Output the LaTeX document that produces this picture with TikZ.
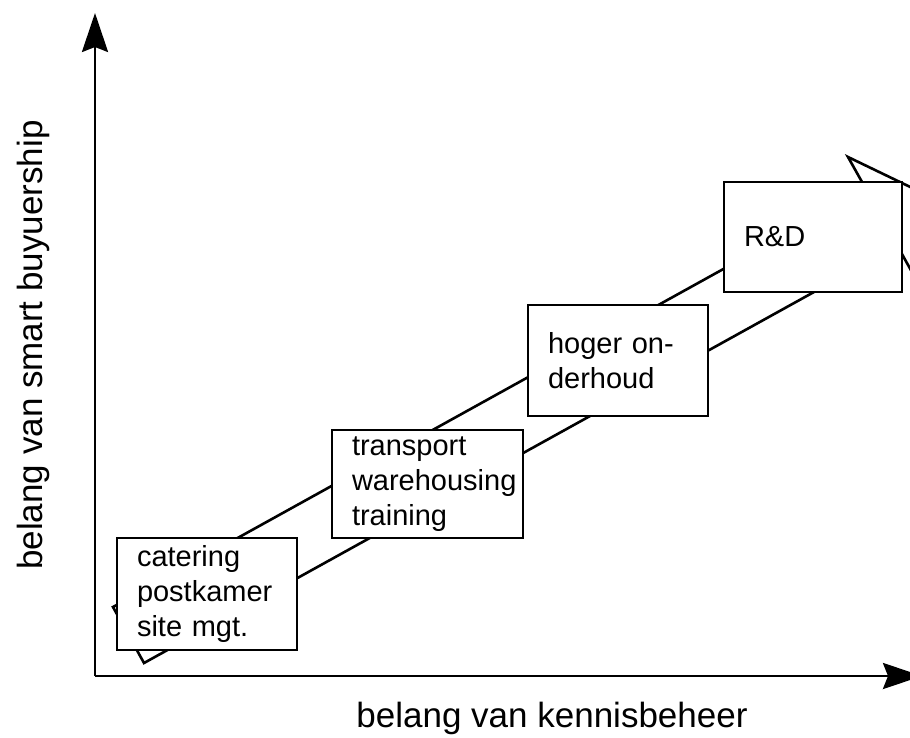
\documentclass[tikz,border=0pt]{standalone}
\usepackage{fontspec}
\setmainfont{Liberation Sans}
\usetikzlibrary{arrows.meta}

\begin{document}
\begin{tikzpicture}[x=1pt,y=-1pt,
  box/.style={draw, rectangle, line width=2.8pt, fill=white, inner xsep=20pt, align=left, font=\fontsize{29}{35}\selectfont},
  axis/.style={line width=2.8pt, -{Stealth[length=39pt,width=26pt,inset=5pt]}},
  band/.style={line width=2.6pt, line join=miter}]
\clip (0,0) rectangle (910,737);

% Axes
\coordinate (O) at (95,676);
\coordinate (ytop) at (95,13);
\coordinate (xend) at (922,676);
\draw[axis] (O) -- (ytop);
\draw[axis] (O) -- (xend);
\node[font=\fontsize{35}{42}\selectfont, anchor=base] (xlabel) at (552,727) {belang van kennisbeheer};
\node[font=\fontsize{35}{42}\selectfont, anchor=base, rotate=90] (ylabel) at (42,345) {belang van smart buyuership};

% Big arrow
\draw[band] (113,607) -- (144,663) -- (897.4,245.8) -- (915.8,279) -- (924.8,194) -- (848,157) -- (866.4,189.8) -- cycle;

% Boxes
\node[box, minimum width=180pt, minimum height=112pt, text width=140pt] (catering) at (207,594) {catering\\postkamer\\site mgt.};
\node[box, minimum width=191pt, minimum height=108pt, text width=151pt] (transport) at (427.5,484) {transport\\warehousing\\training};
\node[box, minimum width=180pt, minimum height=111pt, text width=140pt] (hoger) at (618,360.5) {hoger on-\\derhoud};
\node[box, minimum width=178pt, minimum height=110pt, text width=138pt] (rd) at (813,237) {R\&D};
\end{tikzpicture}
\end{document}
